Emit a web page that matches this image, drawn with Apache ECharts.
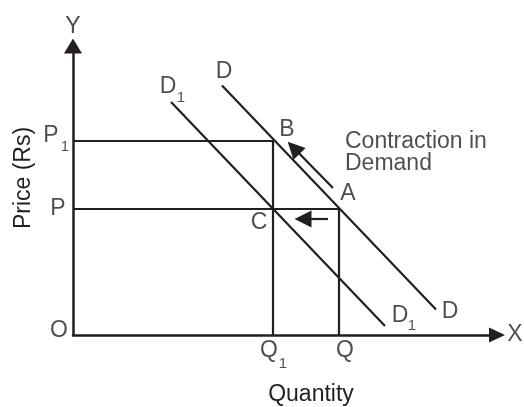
<!DOCTYPE html>
<html>
<head>
<meta charset="utf-8">
<title>Contraction in Demand</title>
<script src="https://cdn.jsdelivr.net/npm/echarts@6/dist/echarts.min.js"></script>
<style>
html, body { margin: 0; padding: 0; background: #fff; }
#chart { width: 524px; height: 407px; }
</style>
</head>
<body>
<div id="chart"></div>
<script>
// values (1 unit = 40px)
var priceLevels = [4.85, 3.15];      // P1, P
var quantityLevels = [5.0, 6.65];    // Q1, Q
var demandD = [[3.725, 6.24], [9.075, 0.64]];
var demandD1 = [[2.45, 5.825], [7.8, 0.225]];
var contractionArrow = [[6.5, 3.675], [5.515, 4.68]];
var shiftArrow = [[6.375, 2.9], [5.75, 2.9]];
var axisMax = [10.6, 7.225];

var P1 = priceLevels[0], P = priceLevels[1];
var Q1 = quantityLevels[0], Q = quantityLevels[1];
var ink = '#231f20';
var fontFamily = '"Liberation Sans", Arial, Helvetica, sans-serif';

function path(data, width) {
	return {
		type: 'line',
		data: data,
		symbol: 'none',
		silent: true,
		animation: false,
		lineStyle: { color: ink, width: width || 2.2 }
	};
}

// [text, anchor point, dx, dy, font size]
var tags = [
	['Y', [0, axisMax[1]], 0, -19, 23],
	['X', [axisMax[0], 0], 18, 0, 23],
	['O', [0, 0], -14, -4, 23],
	['P', [0, P], -15, 0, 23],
	['P', [0, P1], -22, -5, 23],
	['1', [0, P1], -8, 6, 15],
	['Q', [Q1, 0], -4, 16, 23],
	['1', [Q1, 0], 10, 29, 15],
	['Q', [Q, 0], 6, 16, 23],
	['B', [Q1, P1], 14, -11, 23],
	['A', [Q, P], 9, -15, 23],
	['C', [Q1, P], -14, 14, 23],
	['D', demandD[0], 2, -14, 23],
	['D', demandD1[0], -3, -15, 23],
	['1', demandD1[0], 10, -4, 15],
	['D', demandD[1], 14, 2, 23],
	['D', demandD1[1], 15, -10, 23],
	['1', demandD1[1], 27, 0, 15]
];

var tagData = tags.map(function(t) {
	return {
		value: t[1],
		label: {
			show: true,
			position: 'inside',
			formatter: t[0],
			offset: [t[2], t[3]],
			fontSize: t[4]
		}
	};
});
// two-line note beside the arrow
tagData.push({
	value: [Q1, P1],
	label: {
		show: true,
		position: 'inside',
		align: 'left',
		formatter: 'Contraction in\nDemand',
		offset: [72, 12],
		fontSize: 23,
		lineHeight: 22
	}
});

var myChart = echarts.init(document.getElementById('chart'), null, { renderer: 'canvas' });

var option = {
	backgroundColor: '#fff',
	animation: false,
	grid: { left: 73, right: 27, top: 46, bottom: 72, outerBoundsMode: 'none' },
	xAxis: {
		type: 'value', min: 0, max: axisMax[0],
		axisLine: { show: true, onZero: false, symbol: ['none', 'triangle'], symbolSize: [15, 16], lineStyle: { color: ink, width: 2.5 } },
		axisTick: { show: false }, axisLabel: { show: false }, splitLine: { show: false }
	},
	yAxis: {
		type: 'value', min: 0, max: axisMax[1],
		axisLine: { show: true, onZero: false, symbol: ['none', 'triangle'], symbolSize: [18, 15], lineStyle: { color: ink, width: 2.5 } },
		axisTick: { show: false }, axisLabel: { show: false }, splitLine: { show: false }
	},
	graphic: [
		{ type: 'text', x: 24, y: 178, rotation: Math.PI / 2,
		  style: { text: 'Price (Rs)', fill: ink, font: '23px ' + fontFamily, align: 'center', verticalAlign: 'middle' } },
		{ type: 'text', x: 311, y: 395,
		  style: { text: 'Quantity', fill: ink, font: '23px ' + fontFamily, align: 'center', verticalAlign: 'middle' } }
	],
	series: [
		path([[0, P1], [Q1, P1], [Q1, 0]]),
		path([[0, P], [Q, P], [Q, 0]]),
		path(demandD),
		path(demandD1),
		{
			type: 'lines',
			coordinateSystem: 'cartesian2d',
			silent: true,
			animation: false,
			symbol: ['none', 'triangle'],
			symbolSize: [13, 17],
			lineStyle: { color: ink, width: 2.2, opacity: 1, curveness: 0 },
			data: [{ coords: contractionArrow }, { coords: shiftArrow }]
		},
		{
			type: 'scatter',
			silent: true,
			clip: false,
			symbolSize: 1,
			itemStyle: { color: 'rgba(0,0,0,0)' },
			label: { color: ink, fontFamily: fontFamily },
			data: tagData
		}
	]
};

myChart.setOption(option);
</script>
</body>
</html>
